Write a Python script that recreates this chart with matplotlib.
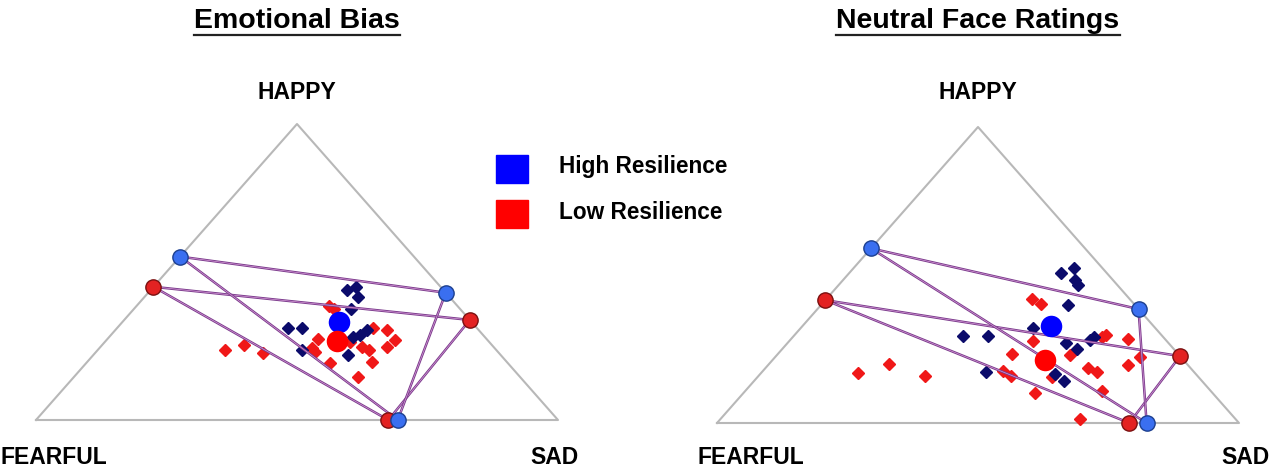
import matplotlib
matplotlib.use("Agg")
import matplotlib.pyplot as plt
from matplotlib.lines import Line2D

FONT = ["Liberation Sans", "DejaVu Sans"]

panel_titles = ["Emotional Bias", "Neutral Face Ratings"]
corner_labels = ["HAPPY", "FEARFUL", "SAD"]
legend_labels = ["High Resilience", "Low Resilience"]

# ---- Emotional Bias (percent: happy, sad, fearful) ----
eb_high_h = [43.9, 45.0, 41.7, 37.5, 31.0, 31.0, 30.4, 28.7, 28.1, 23.7, 22.0]
eb_high_s = [37.7, 38.8, 40.9, 41.5, 32.8, 35.4, 48.2, 47.7, 46.6, 39.1, 48.8]
eb_high_f = [18.4, 16.2, 17.4, 21.0, 36.2, 33.6, 21.4, 23.6, 25.3, 37.2, 29.2]

eb_low_h = [38.6, 37.5, 31.0, 30.4, 27.0, 24.8, 27.4, 23.7, 25.3, 22.7, 24.2, 22.9,
            24.6, 23.7, 19.4, 19.5, 14.4, 26.5]
eb_low_s = [36.9, 38.3, 49.0, 52.0, 55.3, 54.8, 40.4, 24.4, 27.2, 32.2, 40.7, 42.0,
            50.1, 52.0, 46.6, 54.6, 54.5, 46.9]
eb_low_f = [24.5, 24.2, 20.0, 17.6, 17.7, 20.4, 32.2, 51.9, 47.5, 45.1, 35.1, 35.1,
            25.3, 24.3, 34.0, 25.9, 31.1, 26.6]

eb_ext_high_h = [55.2, 43.0, 0.0]
eb_ext_high_s = [0.0, 57.0, 69.3]
eb_ext_high_f = [44.8, 0.0, 30.7]
eb_ext_low_h = [45.0, 33.8, 0.0]
eb_ext_low_s = [0.0, 66.2, 67.5]
eb_ext_low_f = [55.0, 0.0, 32.5]

eb_mean_high = [33.2, 41.5, 25.3]
eb_mean_low = [26.7, 44.4, 28.9]

# ---- Neutral Face Ratings ----
nf_high_h = [50.8, 52.3, 48.3, 46.6, 39.9, 32.2, 29.5, 29.5, 28.0, 29.2, 26.9, 24.9,
             17.3, 16.6, 14.3]
nf_high_s = [40.5, 42.3, 44.4, 45.9, 47.3, 44.5, 32.3, 37.1, 57.4, 57.7, 53.5, 56.5,
             42.9, 56.5, 59.3]
nf_high_f = [8.7, 5.4, 7.3, 7.5, 12.8, 23.3, 38.2, 33.4, 14.6, 13.1, 19.6, 18.6,
             39.8, 26.9, 26.4]

nf_low_h = [41.9, 40.2, 27.7, 23.2, 23.0, 29.0, 29.7, 28.3, 22.4, 19.6, 18.5, 17.3,
            17.6, 16.0, 15.6, 10.0, 10.8, 1.3, 17.0, 19.9, 16.0]
nf_low_s = [39.3, 41.9, 46.6, 44.9, 56.1, 59.2, 59.7, 64.5, 69.8, 68.9, 61.9, 64.1,
            45.9, 48.3, 56.3, 55.9, 68.3, 68.8, 18.6, 23.0, 31.9]
nf_low_f = [18.8, 17.9, 25.7, 31.9, 20.9, 11.8, 10.6, 7.2, 7.8, 11.5, 19.6, 18.6,
            36.5, 35.7, 28.1, 34.1, 20.9, 29.9, 64.4, 57.1, 52.1]

nf_ext_high_h = [59.0, 38.5, 0.0]
nf_ext_high_s = [0.0, 61.5, 82.3]
nf_ext_high_f = [41.0, 0.0, 17.7]
nf_ext_low_h = [41.5, 22.6, 0.0]
nf_ext_low_s = [0.0, 77.4, 79.0]
nf_ext_low_f = [58.5, 0.0, 21.0]

nf_mean_high = [32.8, 47.5, 19.7]
nf_mean_low = [21.3, 52.2, 26.5]

panels = [
    dict(high=(eb_high_h, eb_high_s, eb_high_f), low=(eb_low_h, eb_low_s, eb_low_f),
         ext_high=(eb_ext_high_h, eb_ext_high_s, eb_ext_high_f),
         ext_low=(eb_ext_low_h, eb_ext_low_s, eb_ext_low_f),
         mean_high=eb_mean_high, mean_low=eb_mean_low),
    dict(high=(nf_high_h, nf_high_s, nf_high_f), low=(nf_low_h, nf_low_s, nf_low_f),
         ext_high=(nf_ext_high_h, nf_ext_high_s, nf_ext_high_f),
         ext_low=(nf_ext_low_h, nf_ext_low_s, nf_ext_low_f),
         mean_high=nf_mean_high, mean_low=nf_mean_low),
]


def tern(h, s, f):
    """ternary (happy, sad, fearful) -> cartesian (fearful corner at 0,0; sad at 1,0; happy at 0.5,1)"""
    xs, ys = [], []
    for a, b, c in zip(h, s, f):
        t = a + b + c
        xs.append((b + a / 2.0) / t)
        ys.append(a / t)
    return xs, ys


W, H = 1287, 469
fig = plt.figure(figsize=(W / 100, H / 100), dpi=100)
fig.patch.set_facecolor("white")

tri_left = [36, 717]
tri_w, tri_h = 522, 296
tri_bottoms = [420, 423]

PURPLE = "#7b3b8c"
NAVY = "#0b0b6b"
RED = "#f01818"

for i, p in enumerate(panels):
    bottom_px = tri_bottoms[i]
    ax = fig.add_axes([tri_left[i] / W, (H - bottom_px) / H, tri_w / W, tri_h / H])
    ax.set_xlim(0, 1)
    ax.set_ylim(0, 1)
    ax.axis("off")
    ax.plot([0, 1, 0.5, 0], [0, 0, 1, 0], color="#b8b8b8", lw=1.5, clip_on=False, zorder=1)

    hx, hy = tern(*p["high"])
    lx, ly = tern(*p["low"])
    ax.plot(lx, ly, "D", color=RED, ms=6, mec=RED, clip_on=False, zorder=2)
    ax.plot(hx, hy, "D", color=NAVY, ms=6, mec=NAVY, clip_on=False, zorder=2)

    for key, fc, ec in [("ext_low", "#e32222", "#7a1010"), ("ext_high", "#3a6ff0", "#1c3f8f")]:
        ex, ey = tern(*p[key])
        ax.plot(ex + ex[:1], ey + ey[:1], color=PURPLE, lw=1.8, clip_on=False, zorder=3)
        ax.plot(ex + ex[:1], ey + ey[:1], color="#d79bd8", lw=0.5, clip_on=False, zorder=3)
        ax.plot(ex, ey, "o", ms=11, mfc=fc, mec=ec, mew=1.0, clip_on=False, zorder=4)

    mx, my = tern(*[[v] for v in p["mean_high"]])
    ax.plot(mx, my, "o", ms=15.5, color="#0000ff", mec="none", zorder=5, clip_on=False)
    mx, my = tern(*[[v] for v in p["mean_low"]])
    ax.plot(mx, my, "o", ms=15.5, color="#ff0000", mec="none", zorder=5, clip_on=False)

    cx = tri_left[i] + tri_w / 2
    fig.text(cx / W, 1 - 92 / H, corner_labels[0], ha="center", va="center",
             fontsize=16.5, fontweight="bold", family=FONT)
    fl_x = 1 if i == 0 else 697
    fig.text(fl_x / W, 1 - 457 / H, corner_labels[1], ha="left", va="center",
             fontsize=16.5, fontweight="bold", family=FONT)
    sad_x = 530 if i == 0 else 1221
    fig.text(sad_x / W, 1 - 457 / H, corner_labels[2], ha="left", va="center",
             fontsize=16.5, fontweight="bold", family=FONT)

    t = fig.text(cx / W, 1 - 21 / H, panel_titles[i], ha="center", va="center",
                 fontsize=20.5, fontweight="bold", family=FONT)
    fig.canvas.draw()
    bb = t.get_window_extent()
    uy = 1 - 35 / H
    fig.add_artist(Line2D([bb.x0 / W, bb.x1 / W], [uy, uy], color="#222222", lw=1.6))

# legend
for j, (lab, col) in enumerate(zip(legend_labels, ["#0000ff", "#ff0000"])):
    y0 = [155, 200][j]
    fig.patches.append(plt.Rectangle((496 / W, 1 - (y0 + 28) / H), 32 / W, 28 / H,
                                     transform=fig.transFigure, color=col, figure=fig))
    fig.text(559 / W, 1 - (y0 + 12) / H, lab, ha="left", va="center",
             fontsize=16.3, fontweight="bold", family=FONT)

fig.savefig("out.png", dpi=100, facecolor="white")
